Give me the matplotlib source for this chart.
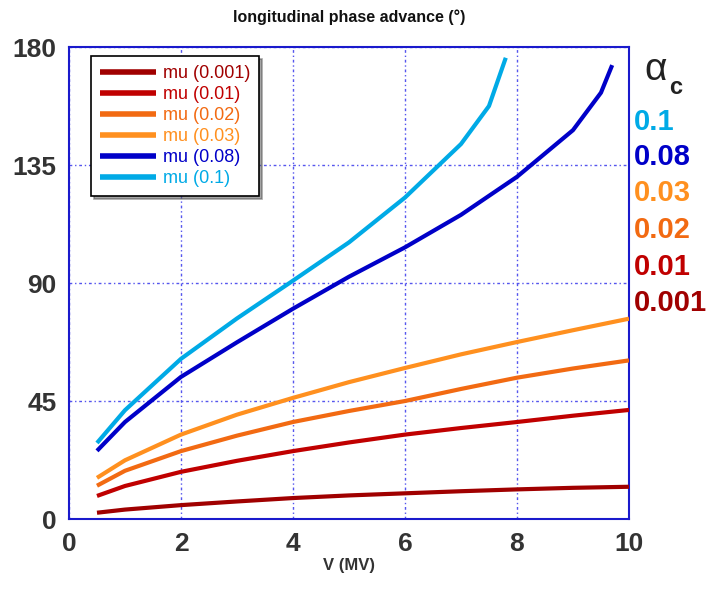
import matplotlib.pyplot as plt

plt.rcParams['font.family'] = ['Liberation Sans', 'DejaVu Sans']

# voltage (MV) and phase advance (deg) for each momentum compaction
v_main = [0.5, 1, 2, 3, 4, 5, 6, 7, 8, 9, 10]
mu_0001 = [2.4, 3.6, 5.3, 6.7, 8.0, 9.0, 9.8, 10.6, 11.3, 11.9, 12.3]
mu_001 = [8.8, 12.6, 18.0, 22.2, 25.9, 29.2, 32.2, 34.7, 37.0, 39.4, 41.6]
mu_002 = [12.7, 18.4, 25.9, 31.8, 37.0, 41.2, 45.0, 49.6, 53.9, 57.4, 60.5]
mu_003 = [15.7, 22.4, 32.2, 39.8, 46.2, 52.2, 57.6, 62.8, 67.5, 72.0, 76.4]

v_008 = [0.5, 1, 2, 3, 4, 5, 6, 7, 8, 9, 9.5, 9.7]
mu_008 = [26.0, 37.0, 54.2, 67.4, 80.2, 92.4, 103.6, 116.0, 130.5, 148.3, 162.6, 173.1]

v_01 = [0.5, 1, 2, 3, 4, 5, 6, 7, 7.5, 7.8]
mu_01 = [29.0, 41.5, 61.1, 76.5, 90.9, 105.5, 122.6, 143.0, 157.5, 175.9]

alpha_labels = ['0.1', '0.08', '0.03', '0.02', '0.01', '0.001']

colors = {
    '0.001': '#A00000',
    '0.01': '#C00000',
    '0.02': '#F26A12',
    '0.03': '#FF901F',
    '0.08': '#0000C8',
    '0.1': '#00AAE6',
}

fig = plt.figure(figsize=(7.12, 5.90), dpi=100)
ax = fig.add_axes([0.0969, 0.1203, 0.7865, 0.8000])

series = [
    ('0.001', v_main, mu_0001),
    ('0.01', v_main, mu_001),
    ('0.02', v_main, mu_002),
    ('0.03', v_main, mu_003),
    ('0.08', v_008, mu_008),
    ('0.1', v_01, mu_01),
]
for name, xs, ys in series:
    ax.plot(xs, ys, color=colors[name], lw=3, label='mu (%s)' % name,
            solid_capstyle='butt', zorder=3)

ax.set_xlim(0, 10)
ax.set_ylim(0, 180)
ax.set_xticks([0, 2, 4, 6, 8, 10])
ax.set_yticks([0, 45, 90, 135, 180])
ax.grid(True, color='#5555EE', lw=1, linestyle=(0, (2, 2, 1, 2)))
for sp in ax.spines.values():
    sp.set_color('#1a1acc')
    sp.set_linewidth(1.5)
ax.tick_params(length=0, pad=9, labelsize=19, labelcolor='#333333')
for lab in ax.get_xticklabels() + ax.get_yticklabels():
    lab.set_fontweight('bold')

ax.set_title('longitudinal phase advance (°)', fontsize=11.5, fontweight='bold',
             pad=18, color='#111111')
ax.set_xlabel('V (MV)', fontsize=12, fontweight='bold', color='#333333', labelpad=2)

leg = ax.legend(loc='upper left', bbox_to_anchor=(0.04, 0.98), fontsize=13,
                handlelength=3.1, handletextpad=0.35, labelspacing=0.22,
                frameon=True, fancybox=False, shadow=True, borderpad=0.5,
                borderaxespad=0)
leg.get_frame().set_edgecolor('black')
leg.get_frame().set_linewidth(1.2)
for txt, line in zip(leg.get_texts(), leg.get_lines()):
    txt.set_color(line.get_color())
    line.set_linewidth(4)

# alpha_c labels on the right side
fig.text(0.905, 1 - 70 / 590, 'α', fontsize=28, color='#222222', va='center',
         ha='left')
fig.text(0.940, 1 - 87 / 590, 'c', fontsize=17, color='#222222', va='center',
         ha='left', fontweight='bold')
ys_text = [121.7, 156.7, 193, 230, 266.7, 303]
for lab, yp in zip(alpha_labels, ys_text):
    fig.text(0.890, 1 - yp / 590, lab, fontsize=21, fontweight='bold',
             color=colors[lab], va='center', ha='left')

fig.savefig('out.png', dpi=100)
